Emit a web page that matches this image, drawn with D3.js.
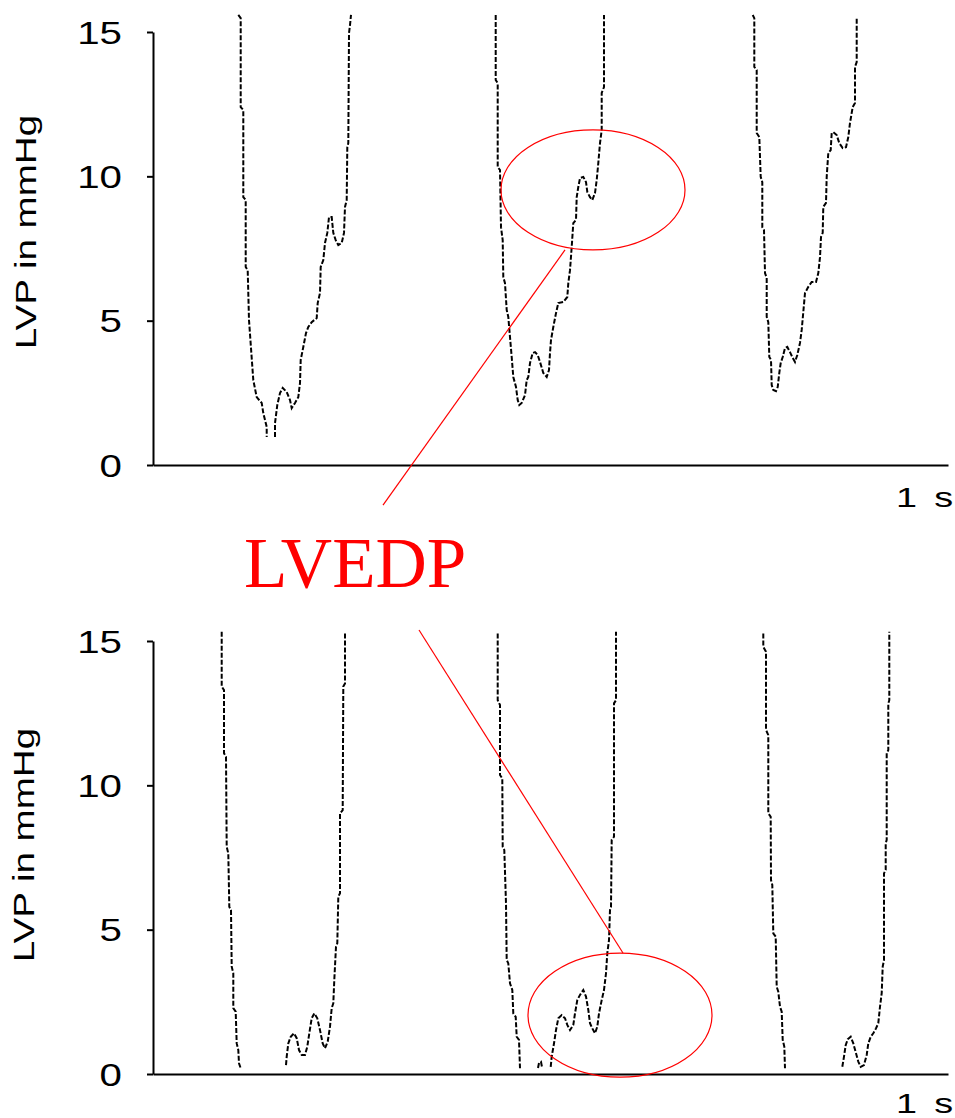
<!DOCTYPE html>
<html><head><meta charset="utf-8">
<script src="https://cdn.jsdelivr.net/npm/d3@7"></script>
<style>html,body{margin:0;padding:0;background:#fff;} svg{display:block}</style>
</head><body><svg id="c" width="955" height="1118"></svg>
<script>
// ---- data: [time (ms), LVP (mmHg)] ----
const yTicks = [0, 5, 10, 15];
const unitLabel = "1 s";
const axisTitle = "LVP in mmHg";
const annotationText = "LVEDP";

// top panel (3 beats)
const topBeat1a = [[85.3,15.59],[87.7,15.48],[87.7,12.40],[90.3,12.30],[90.3,9.28],[92.7,9.18],[92.7,6.86],[94.7,6.75],[96,5.02],[98.7,3.71],[100.3,2.94],[103.7,2.35],[108.7,2.15],[110.3,1.80],[113.7,1.32],[113.7,0.97]];
const topBeat1b = [[122,0.97],[122,1.45],[124.3,2.08],[127,2.49],[129.7,2.67],[133.7,2.53],[137,2.25],[138.7,1.97],[142,2.15],[145.3,2.35],[147,2.84],[147.7,3.64],[150.3,4.09],[153,4.57],[155.3,4.78],[158.7,4.95],[163.7,5.09],[164.7,5.61],[167,5.96],[167.7,6.86],[170.3,7.10],[172,7.69],[174.3,8.04],[176,8.59],[178.7,8.59],[180.3,8.04],[182.7,7.79],[185.3,7.62],[188.7,7.69],[191,8.04],[192,8.94],[193.7,9.18],[194.3,11.01],[195.3,11.15],[196,14.96],[197,15.24],[198,15.59]];
const topBeat2 = [[342.7,15.59],[342.7,13.34],[344.7,13.23],[344.7,10.32],[347,10.22],[348,8.24],[349.7,7.79],[350.3,6.51],[352,6.30],[353.7,5.37],[355.3,5.13],[357,4.43],[358.7,3.74],[360.3,3.05],[363,2.70],[364.7,2.25],[366.3,2.08],[368.7,2.15],[372,2.42],[373.7,2.94],[375.3,3.05],[377,3.53],[379.7,3.88],[382,3.91],[384.7,3.81],[387,3.57],[390.3,3.19],[393.7,3.05],[396,3.29],[397,3.88],[398,4.33],[400.3,4.78],[403,5.26],[405.3,5.61],[410.3,5.65],[414.3,5.82],[415.3,6.30],[417,6.75],[418.7,7.55],[420.3,8.38],[423,8.49],[423.7,9.28],[425.3,9.63],[427,9.94],[430.3,9.98],[433,9.80],[434.3,9.46],[437,9.28],[439.3,9.18],[442,9.42],[443.7,9.87],[445.3,10.46],[447,11.15],[448.7,11.60],[448.7,12.89],[451,13.09],[451,15.59]];
const topBeat3 = [[599.7,15.59],[601.3,15.48],[601.3,13.79],[603.7,13.68],[603.7,11.50],[606.3,11.36],[607.7,9.98],[609.3,9.80],[609.3,8.24],[611,8.14],[612,6.65],[613.7,6.48],[613.7,5.13],[615.3,4.95],[616.3,3.74],[618,3.64],[618.7,2.77],[620.3,2.60],[623,2.56],[624.7,2.70],[626.3,3.19],[627.7,3.53],[629.7,3.74],[632,4.05],[634.3,4.09],[637,3.91],[639.7,3.71],[642,3.57],[644.3,3.81],[647,4.23],[648.7,4.68],[650.3,5.30],[652,5.96],[655.3,6.17],[658.7,6.34],[663,6.34],[665.3,6.65],[667,7.20],[668,7.90],[669.7,8.04],[670.3,8.94],[673,9.08],[673.7,9.98],[675.3,10.81],[677.7,10.91],[678.7,11.50],[680.3,11.53],[683.7,11.43],[686.3,11.15],[689.7,10.98],[693,11.01],[695.3,11.36],[697,11.85],[699.7,12.40],[702,12.54],[702,13.79],[703.7,13.96],[703.7,15.48]];

// bottom panel (3 beats)
const botBeat1a = [[68.7,15.32],[68.7,13.42],[71,13.30],[71,11.11],[73,10.99],[73.7,7.87],[75.3,7.64],[76.3,5.79],[78,5.68],[78.7,3.72],[80.3,3.49],[80.3,2.28],[82.7,2.16],[83.7,1.06],[85.3,0.83],[86,0.37],[87.7,0.20]];
const botBeat1b = [[133,0.31],[133.7,0.60],[135.3,1.06],[137.7,1.29],[141,1.41],[143.7,1.24],[146,0.83],[148.7,0.66],[152,0.66],[154.3,0.95],[156.3,1.41],[158.7,1.93],[161.3,2.10],[164.3,1.93],[167,1.52],[169.7,1.06],[172,0.89],[174.7,1.12],[177,1.64],[178.7,2.28],[180.3,2.45],[181.3,3.26],[183,4.41],[184.3,4.53],[185.3,6.14],[187,6.26],[187,9.03],[189.7,9.14],[190.3,13.42],[192,13.53],[192,15.32]];
const botBeat2a = [[344.7,15.26],[344.7,12.95],[347,12.78],[347,10.36],[349.3,10.24],[349.7,7.87],[351.3,7.76],[353,5.91],[353.7,3.95],[355.3,3.83],[357,3.14],[359.3,2.91],[360.3,2.10],[362.7,1.98],[363.7,1.29],[366,1.18],[367,0.20]];
const botBeat2b = [[385,0.21],[386,0.38],[388,0.42],[389,0.24]];
const botBeat2c = [[397.7,0.25],[398.7,0.60],[401,1.06],[403,1.52],[405.3,1.93],[408.7,2.04],[412,1.93],[414.3,1.70],[417,1.52],[420.3,1.70],[422,2.10],[424.3,2.56],[427,2.74],[430.3,2.91],[433,2.68],[435.3,2.22],[437,1.76],[439.3,1.58],[442,1.41],[444.3,1.64],[446,2.10],[448.7,2.56],[451,2.91],[453,3.49],[454.3,4.18],[456,4.64],[457,5.68],[458,5.79],[458.7,8.11],[461,8.22],[461,12.84],[463,12.95],[463,15.32]];
const botBeat3a = [[610.3,15.26],[610.3,14.80],[613,14.63],[613,11.92],[615.3,11.74],[615.3,9.03],[617.7,8.91],[618,6.72],[619.3,6.55],[620.3,4.87],[622.7,4.76],[623.7,3.02],[625.3,2.85],[627,2.33],[628.7,2.16],[629.7,1.18],[631.3,0.95],[632,0.20]];
const botBeat3b = [[689.3,0.25],[691,0.60],[692.7,1.00],[694.7,1.20],[697.7,1.29],[700.3,1.06],[703,0.72],[705.3,0.43],[707.7,0.25],[711,0.31],[713.7,0.66],[715.3,1.06],[717.7,1.29],[720.3,1.41],[723,1.58],[725.3,1.76],[727,2.33],[728.7,2.80],[729.7,3.72],[731,3.95],[731,6.95],[732.7,7.07],[732.7,7.99],[733.7,8.11],[733.7,11.11],[735.3,11.22],[735.3,12.84],[736.3,12.95],[736.3,15.32]];

// annotation marks in data units: [centre time, centre LVP, radius time, radius LVP]
const topMark = [440, 9.53, 92, 2.08];
const botMark = [467, 2.04, 92, 2.15];
// pointer lines in data units: [[t1,v1],[t2,v2]]
const topPointer = [[412, 7.45], [230, -1.39]];
const botPointer = [[266, 15.38], [470, 4.19]];

const topTraces = [topBeat1a, topBeat1b, topBeat2, topBeat3];
const botTraces = [botBeat1a, botBeat1b, botBeat2a, botBeat2b, botBeat2c, botBeat3a, botBeat3b];

// ---- drawing ----
const svg = d3.select('#c');
const x = d3.scaleLinear().domain([0, 795]).range([153, 948]);
const yTop = d3.scaleLinear().domain([0, 15]).range([465, 32]);
const yBot = d3.scaleLinear().domain([0, 15]).range([1074, 641]);
const SANS = "'Liberation Sans', Arial, sans-serif";

function panel(y, traces, mark, pointer, titleX, titleY, unitY) {
  const g = svg.append('g');
  const ya = g.append('g').attr('transform', `translate(${x(0)},0)`)
    .call(d3.axisLeft(y).tickValues(yTicks).tickSize(6).tickSizeOuter(0));
  ya.attr('font-family', SANS).attr('font-size', 31);
  ya.select('.domain').attr('stroke', '#000').attr('stroke-width', 2);
  ya.selectAll('.tick line').attr('stroke', '#000').attr('stroke-width', 2);
  ya.selectAll('.tick text').attr('x', 0).attr('dy', null).attr('y', 11)
    .attr('fill', '#000').attr('text-anchor', 'end')
    .attr('transform', 'translate(-31,0) scale(1.3,1)');
  const xa = g.append('g').attr('transform', `translate(0,${y(0)})`)
    .call(d3.axisBottom(x).tickValues([]).tickSizeOuter(0));
  xa.select('.domain').attr('stroke', '#000').attr('stroke-width', 2);

  const line = d3.line().x(d => x(d[0])).y(d => y(d[1]));
  g.selectAll('path.trace').data(traces).join('path').attr('class', 'trace')
    .attr('d', line).attr('fill', 'none').attr('stroke', '#000')
    .attr('stroke-width', 2).attr('stroke-dasharray', '5,2');

  g.append('text').text(axisTitle)
    .attr('transform', `translate(${titleX},${titleY}) rotate(-90) scale(1.33,1)`)
    .attr('text-anchor', 'middle').attr('font-family', SANS).attr('font-size', 29).attr('fill', '#000');
  g.append('text').text(unitLabel)
    .attr('transform', `translate(896,${unitY}) scale(1.35,1)`)
    .attr('font-family', SANS).attr('font-size', 28).attr('word-spacing', 5).attr('fill', '#000');

  g.append('ellipse')
    .attr('cx', x(mark[0])).attr('cy', y(mark[1]))
    .attr('rx', x(mark[2]) - x(0)).attr('ry', y(0) - y(mark[3]))
    .attr('fill', 'none').attr('stroke', '#f00').attr('stroke-width', 1.2);
  g.append('line')
    .attr('x1', x(pointer[0][0])).attr('y1', y(pointer[0][1]))
    .attr('x2', x(pointer[1][0])).attr('y2', y(pointer[1][1]))
    .attr('stroke', '#f00').attr('stroke-width', 1.2);
}

panel(yTop, topTraces, topMark, topPointer, 36, 232, 507);
panel(yBot, botTraces, botMark, botPointer, 34, 845, 1113);

svg.append('text').text(annotationText)
  .attr('x', 244).attr('y', 587)
  .attr('font-family', "'Liberation Serif', 'Times New Roman', serif")
  .attr('font-size', 71).attr('fill', '#f00');
</script>
</body></html>
